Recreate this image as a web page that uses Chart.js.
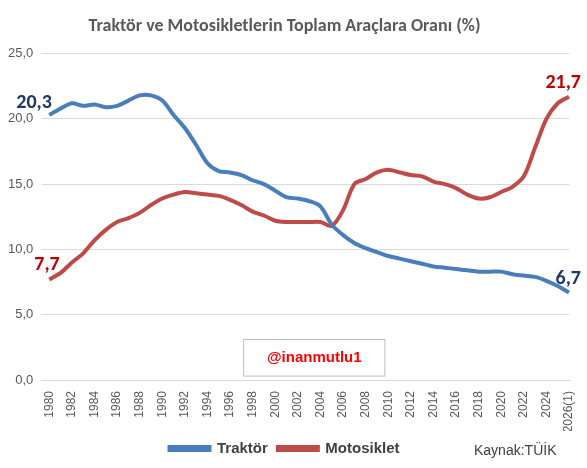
<!DOCTYPE html><html><head><script src="https://cdn.jsdelivr.net/npm/chart.js@4"></script>
<style>body{margin:0;background:#fff}#w{width:587px;height:468px}</style></head><body><div id="w"><canvas id="c"></canvas></div>
<script>
const years=[];for(let y=1980;y<=2025;y++)years.push(String(y));years.push('2026(1)');
const traktor=[20.3,20.8,21.2,21.0,21.1,20.9,21.0,21.4,21.8,21.8,21.4,20.3,19.3,18.0,16.6,16.0,15.9,15.7,15.3,15.0,14.5,14.0,13.9,13.7,13.3,11.9,11.1,10.5,10.1,9.8,9.5,9.3,9.1,8.9,8.7,8.6,8.5,8.4,8.3,8.3,8.3,8.1,8.0,7.9,7.6,7.2,6.7];
const moto=[7.7,8.2,9.0,9.7,10.7,11.5,12.1,12.4,12.8,13.4,13.9,14.2,14.4,14.3,14.2,14.1,13.8,13.4,12.9,12.6,12.2,12.1,12.1,12.1,12.1,11.8,13.0,15.0,15.4,15.9,16.1,15.9,15.7,15.6,15.2,15.0,14.7,14.2,13.9,14.0,14.4,14.8,15.6,17.8,20.0,21.2,21.7];
const fmt=v=>v.toFixed(1).replace('.',',');
const extra={id:'extra',afterDatasetsDraw(ch){const c=ch.ctx,x=ch.scales.x,y=ch.scales.y;c.save();
c.font='bold 20px Calibri, "Liberation Sans", sans-serif';
const n=years.length-1;
c.textAlign='left';c.fillStyle='#1f3864';c.fillText(fmt(traktor[0]),x.getPixelForValue(0)-33,y.getPixelForValue(traktor[0])-12);
c.fillStyle='#c00000';c.fillText(fmt(moto[0]),x.getPixelForValue(0)-15,y.getPixelForValue(moto[0])-14);
c.textAlign='right';c.fillStyle='#1f3864';c.fillText(fmt(traktor[n]),x.getPixelForValue(n)+12,y.getPixelForValue(traktor[n])-14);
c.fillStyle='#c00000';c.fillText(fmt(moto[n]),x.getPixelForValue(n)+12,y.getPixelForValue(moto[n])-14);
const bx=x.getPixelForValue(17.2),bx2=x.getPixelForValue(29.7),by=y.getPixelForValue(3.1),by2=y.getPixelForValue(0.3);
c.fillStyle='#fff';c.fillRect(bx,by,bx2-bx,by2-by);
c.strokeStyle='#bfbfbf';c.lineWidth=1;c.strokeRect(bx,by,bx2-bx,by2-by);
c.fillStyle='#ff0000';c.font='bold 15px "Liberation Sans", sans-serif';c.textAlign='center';c.textBaseline='middle';c.fillText('@inanmutlu1',(bx+bx2)/2,(by+by2)/2);
c.fillStyle='#404040';c.font='14px "Liberation Sans", sans-serif';c.textAlign='left';c.fillText('Kaynak:TÜİK',474,451);
c.restore();}};
new Chart(document.getElementById('c'),{type:'line',data:{labels:years,datasets:[
{label:'Traktör',data:traktor,borderColor:'#4a7ebb',backgroundColor:'#4a7ebb',borderWidth:4,pointRadius:0,tension:0.3},
{label:'Motosiklet',data:moto,borderColor:'#be4b48',backgroundColor:'#be4b48',borderWidth:4,pointRadius:0,tension:0.3}]},
options:{responsive:true,maintainAspectRatio:false,animation:false,
layout:{padding:{left:0,right:18,top:10,bottom:2}},
plugins:{title:{display:true,text:'Traktör ve Motosikletlerin Toplam Araçlara Oranı (%)',color:'#595959',font:{size:18,weight:'bold',family:'Calibri, "Liberation Sans", sans-serif'},padding:{top:6,bottom:16}},
legend:{position:'bottom',align:'center',labels:{color:'#404040',boxWidth:40,boxHeight:3,padding:10,font:{size:15,weight:'bold',family:'"Liberation Sans", sans-serif'}}},tooltip:{enabled:false}},
scales:{x:{afterFit:s=>{s.height=51},grid:{display:false},border:{color:'#d9d9d9'},ticks:{color:'#595959',autoSkip:false,maxRotation:90,minRotation:90,font:{size:12},callback:(v,i)=>(i%2===0&&i<45)||i===46?years[i]:''}},
y:{min:0,max:25,grid:{color:'#d9d9d9'},border:{display:false},ticks:{stepSize:5,color:'#595959',font:{size:13},padding:8,callback:v=>fmt(v)}}}},
plugins:[extra]});
</script></body></html>
